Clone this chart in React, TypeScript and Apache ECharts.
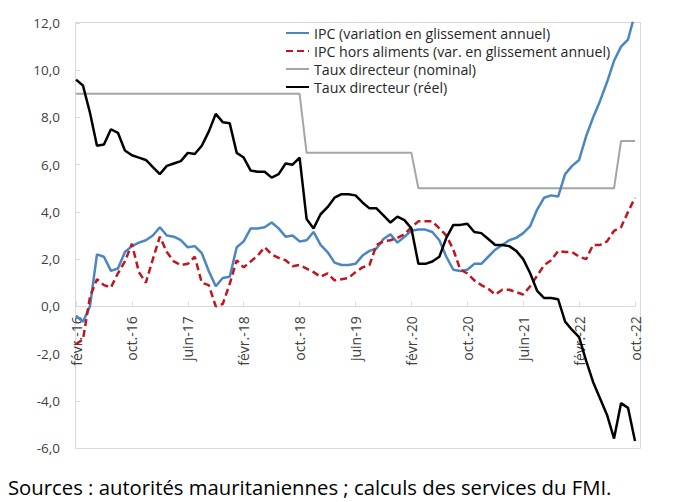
import React, { useEffect, useRef } from "react";
import * as echarts from "echarts";

const categories = [
  "févr.-16", "mars-16", "avr.-16", "mai-16", "juin-16", "juil.-16", "août-16", "sept.-16", "oct.-16", "nov.-16", "déc.-16",
  "janv.-17", "févr.-17", "mars-17", "avr.-17", "mai-17", "juin-17", "juil.-17", "août-17", "sept.-17", "oct.-17", "nov.-17", "déc.-17",
  "janv.-18", "févr.-18", "mars-18", "avr.-18", "mai-18", "juin-18", "juil.-18", "août-18", "sept.-18", "oct.-18", "nov.-18", "déc.-18",
  "janv.-19", "févr.-19", "mars-19", "avr.-19", "mai-19", "juin-19", "juil.-19", "août-19", "sept.-19", "oct.-19", "nov.-19", "déc.-19",
  "janv.-20", "févr.-20", "mars-20", "avr.-20", "mai-20", "juin-20", "juil.-20", "août-20", "sept.-20", "oct.-20", "nov.-20", "déc.-20",
  "janv.-21", "févr.-21", "mars-21", "avr.-21", "mai-21", "juin-21", "juil.-21", "août-21", "sept.-21", "oct.-21", "nov.-21", "déc.-21",
  "janv.-22", "févr.-22", "mars-22", "avr.-22", "mai-22", "juin-22", "juil.-22", "août-22", "sept.-22", "oct.-22",
];

const ipc = [
  -0.4, -0.65, 0.0, 2.2, 2.1, 1.5, 1.6, 2.3, 2.55, 2.7,
  2.8, 3.0, 3.35, 3.0, 2.95, 2.8, 2.5, 2.55, 2.25, 1.5,
  0.85, 1.2, 1.25, 2.5, 2.75, 3.3, 3.3, 3.35, 3.55, 3.3,
  2.95, 3.0, 2.75, 2.8, 3.15, 2.6, 2.3, 1.85, 1.75, 1.75,
  1.8, 2.15, 2.35, 2.45, 2.85, 3.05, 2.7, 2.95, 3.2, 3.25,
  3.25, 3.15, 2.8, 2.1, 1.55, 1.5, 1.55, 1.8, 1.8, 2.1,
  2.4, 2.6, 2.8, 2.9, 3.1, 3.4, 4.1, 4.6, 4.7, 4.65,
  5.6, 5.95, 6.2, 7.2, 8.0, 8.7, 9.5, 10.4, 11.0, 11.3,
  12.4,
];

const ipcHorsAliments = [
  -1.6, -1.4, 0.4, 1.15, 0.9, 0.8, 1.4, 1.9, 2.65, 1.45,
  1.0, 2.0, 2.95, 2.3, 1.9, 1.75, 1.8, 2.1, 1.0, 0.9,
  0.0, 0.1, 0.95, 1.95, 1.65, 1.9, 2.15, 2.5, 2.2, 2.05,
  1.95, 1.7, 1.75, 1.6, 1.45, 1.25, 1.4, 1.1, 1.15, 1.2,
  1.45, 1.65, 1.75, 2.6, 2.75, 2.8, 2.9, 3.05, 3.35, 3.6,
  3.6, 3.6, 3.3, 3.0, 2.4, 1.55, 1.4, 1.1, 0.9, 0.75,
  0.5, 0.7, 0.7, 0.6, 0.5, 0.85, 1.3, 1.75, 1.95, 2.35,
  2.3, 2.3, 2.1, 2.0, 2.6, 2.6, 2.75, 3.2, 3.35, 4.0,
  4.6,
];

const tauxNominal = [
  9.0, 9.0, 9.0, 9.0, 9.0, 9.0, 9.0, 9.0, 9.0, 9.0,
  9.0, 9.0, 9.0, 9.0, 9.0, 9.0, 9.0, 9.0, 9.0, 9.0,
  9.0, 9.0, 9.0, 9.0, 9.0, 9.0, 9.0, 9.0, 9.0, 9.0,
  9.0, 9.0, 9.0, 6.5, 6.5, 6.5, 6.5, 6.5, 6.5, 6.5,
  6.5, 6.5, 6.5, 6.5, 6.5, 6.5, 6.5, 6.5, 6.5, 5.0,
  5.0, 5.0, 5.0, 5.0, 5.0, 5.0, 5.0, 5.0, 5.0, 5.0,
  5.0, 5.0, 5.0, 5.0, 5.0, 5.0, 5.0, 5.0, 5.0, 5.0,
  5.0, 5.0, 5.0, 5.0, 5.0, 5.0, 5.0, 5.0, 7.0, 7.0,
  7.0,
];

const tauxReel = [
  9.6, 9.35, 8.2, 6.8, 6.85, 7.5, 7.35, 6.6, 6.4, 6.3,
  6.2, 5.9, 5.6, 5.95, 6.05, 6.15, 6.5, 6.45, 6.8, 7.4,
  8.15, 7.8, 7.75, 6.5, 6.3, 5.75, 5.7, 5.7, 5.45, 5.6,
  6.05, 6.0, 6.3, 3.7, 3.3, 3.9, 4.2, 4.6, 4.75, 4.75,
  4.7, 4.4, 4.15, 4.15, 3.85, 3.55, 3.8, 3.65, 3.3, 1.8,
  1.8, 1.9, 2.1, 2.9, 3.45, 3.45, 3.5, 3.15, 3.1, 2.85,
  2.6, 2.6, 2.55, 2.35, 2.0, 1.4, 0.65, 0.35, 0.35, 0.3,
  -0.65, -1.0, -1.3, -2.3, -3.2, -3.9, -4.6, -5.6, -4.1, -4.3,
  -5.7,
];

const seriesNames = [
  "IPC (variation en glissement annuel)",
  "IPC hors aliments (var. en glissement annuel)",
  "Taux directeur (nominal)",
  "Taux directeur (réel)",
];

const yMin = -6;
const yMax = 12;
const yInterval = 2;

const footnote = "Sources : autorités mauritaniennes ; calculs des services du FMI.";

const FONT = "'Open Sans', 'Noto Sans', sans-serif";

const GRID_TOP = 23;
const GRID_BOTTOM = 54;
const GRID_HEIGHT = 502 - GRID_TOP - GRID_BOTTOM;

export default function App() {
  const ref = useRef<HTMLDivElement>(null);

  useEffect(() => {
    if (!ref.current) return;
    const chart = echarts.init(ref.current, null, { renderer: "svg" });
    // distance from the grid bottom up to the zero line, via the value range
    const zeroOffset = -GRID_HEIGHT * (0 - yMin) / (yMax - yMin);
    chart.setOption({
      animation: false,
      backgroundColor: "#ffffff",
      textStyle: { fontFamily: FONT },
      grid: { left: 76, right: 41, top: GRID_TOP, bottom: GRID_BOTTOM, containLabel: false },
      legend: {
        orient: "vertical",
        left: 285,
        top: 26,
        padding: 0,
        itemWidth: 23,
        itemHeight: 14,
        itemGap: 4,
        itemStyle: { opacity: 0 },
        textStyle: { fontFamily: FONT, fontSize: 14.2, color: "#262626" },
        data: seriesNames,
      },
      xAxis: {
        type: "category",
        data: categories,
        boundaryGap: false,
        position: "bottom",
        offset: zeroOffset,
        axisLine: { show: true, onZero: false, lineStyle: { color: "#d9d9d9", width: 1 } },
        axisTick: {
          show: true,
          inside: true,
          interval: 7,
          length: 5,
          lineStyle: { color: "#d9d9d9" },
        },
        axisLabel: {
          interval: 7,
          rotate: 90,
          margin: 10,
          fontFamily: FONT,
          fontSize: 14,
          color: "#404040",
        },
        splitLine: { show: false },
      },
      yAxis: {
        type: "value",
        min: yMin,
        max: yMax,
        interval: yInterval,
        axisLine: { show: false },
        axisTick: { show: true, inside: true, length: 4, lineStyle: { color: "#d9d9d9" } },
        axisLabel: {
          margin: 16,
          fontFamily: FONT,
          fontSize: 13.5,
          color: "#404040",
          formatter: (v: number) => v.toFixed(1).replace(".", ","),
        },
        splitLine: { show: false },
      },
      graphic: [
        {
          type: "rect",
          shape: { x: 75.5, y: 22.5, width: 565, height: 426 },
          style: { fill: "none", stroke: "#d9d9d9", lineWidth: 1 },
          silent: true,
          z: 0,
        },
        {
          type: "text",
          left: 8,
          top: 477,
          style: {
            text: footnote,
            fontFamily: FONT,
            fontSize: 20.3,
            fill: "#000000",
          },
        },
      ],
      series: [
        {
          name: seriesNames[0],
          type: "line",
          data: ipc,
          symbol: "none",
          lineStyle: { color: "#4a86c2", width: 2.5 },
          itemStyle: { color: "#4a86c2" },
          z: 3,
        },
        {
          name: seriesNames[1],
          type: "line",
          data: ipcHorsAliments,
          symbol: "none",
          lineStyle: { color: "#c0151f", width: 2.5, type: [7, 4] },
          itemStyle: { color: "#c0151f" },
          z: 4,
        },
        {
          name: seriesNames[2],
          type: "line",
          data: tauxNominal,
          symbol: "none",
          lineStyle: { color: "#a5a5a5", width: 2 },
          itemStyle: { color: "#a5a5a5" },
          z: 2,
        },
        {
          name: seriesNames[3],
          type: "line",
          data: tauxReel,
          symbol: "none",
          lineStyle: { color: "#000000", width: 2.5 },
          itemStyle: { color: "#000000" },
          z: 5,
        },
      ],
    });
    return () => chart.dispose();
  }, []);

  return (
    <div style={{ position: "absolute", left: 0, top: 0, width: 676, height: 502, background: "#fff" }}>
      <div ref={ref} style={{ width: 676, height: 502 }} />
    </div>
  );
}
